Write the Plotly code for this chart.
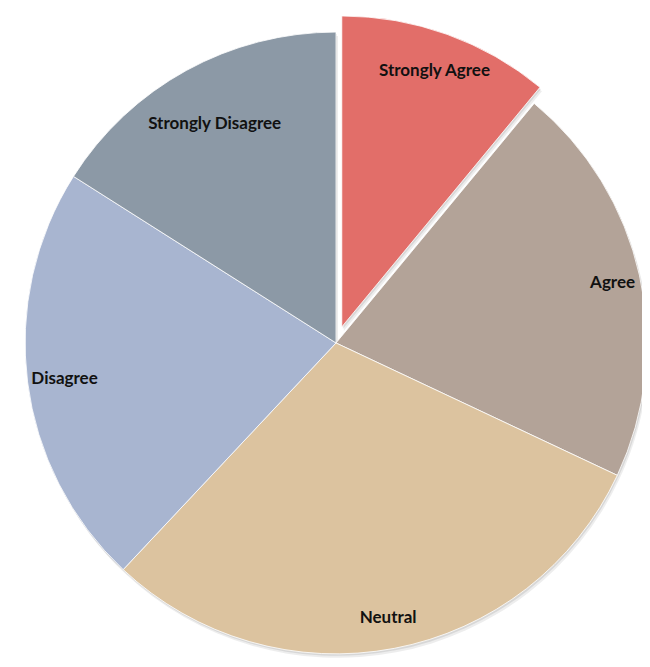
import plotly.graph_objects as go

labels = ["Strongly Agree", "Agree", "Neutral", "Disagree", "Strongly Disagree"]
values = [11, 21, 30, 22, 16]
colors = ["#e26e69", "#b3a398", "#dcc39f", "#a8b5d0", "#8c99a6"]
pulls = [0.055, 0, 0, 0, 0]
# inner radius (fraction) of the invisible ring that carries each slice's label
label_holes = [0.76, 0.82, 0.79, 0.76, 0.62]

W, H = 660, 680
main_x = [0, 656 / W]
main_y = [0.0174, 0.9974]


def shifted(dx, dy):
    return dict(x=[main_x[0] + dx / W, main_x[1] + dx / W],
                y=[main_y[0] - dy / H, main_y[1] - dy / H])


common = dict(labels=labels, values=values, sort=False, direction="clockwise",
              rotation=0, pull=pulls, showlegend=False)

fig = go.Figure()
# soft drop shadow
for dx, dy, a in [(2, 4, 0.07), (1, 2, 0.09)]:
    fig.add_trace(go.Pie(
        **common, domain=shifted(dx, dy),
        marker=dict(colors=[f"rgba(0,0,0,{a})"] * len(values), line=dict(width=0)),
        textinfo="none", hoverinfo="skip",
    ))
# main slices
fig.add_trace(go.Pie(
    **common, domain=dict(x=main_x, y=main_y),
    marker=dict(colors=colors, line=dict(color="rgba(255,255,255,0.8)", width=1)),
    textinfo="none", hoverinfo="label+value",
))
# label rings (transparent) so labels sit near the outer edge
for i, h in enumerate(label_holes):
    txt = [lab if j == i else "" for j, lab in enumerate(labels)]
    fig.add_trace(go.Pie(
        **common, domain=dict(x=main_x, y=main_y), hole=h,
        marker=dict(colors=["rgba(0,0,0,0)"] * len(values), line=dict(width=0)),
        text=txt, textinfo="text", textposition="inside",
        insidetextorientation="horizontal",
        textfont=dict(family="Lato", size=17, color="#111111", weight="bold"),
        hoverinfo="skip",
    ))

fig.update_layout(
    width=W, height=H,
    margin=dict(l=0, r=0, t=0, b=0),
    paper_bgcolor="white",
    plot_bgcolor="white",
    uniformtext=dict(minsize=17, mode="show"),
)

fig.write_html("out.html")
